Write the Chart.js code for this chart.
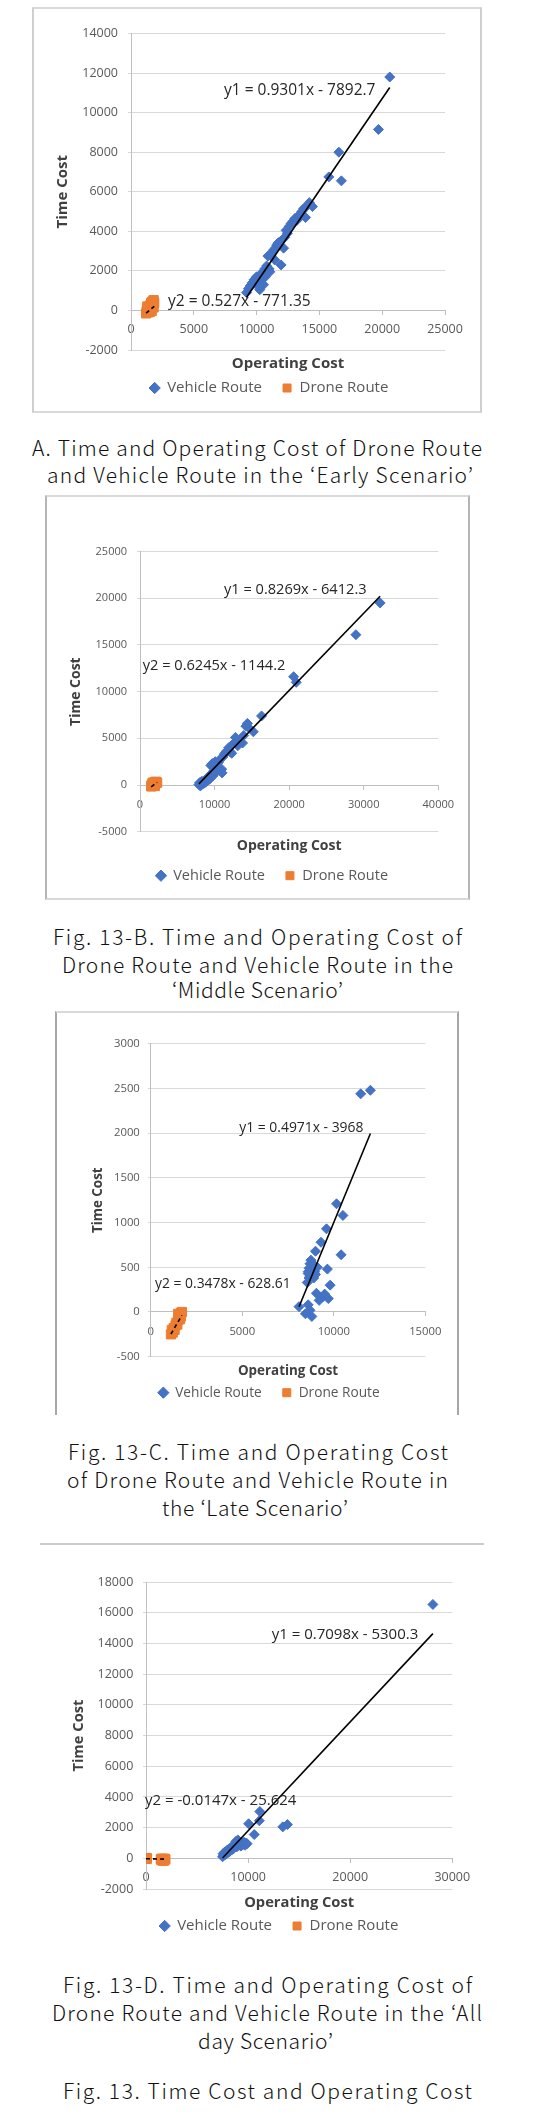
<!DOCTYPE html>
<html>
<head>
<meta charset="utf-8">
<script src="https://cdn.jsdelivr.net/npm/chart.js@4.4.0/dist/chart.umd.min.js"></script>
<style>
body { margin: 0; background: #fff; }
#page { position: relative; width: 541px; height: 2115px; overflow: hidden; background: #fff; }
.frame { position: absolute; box-sizing: border-box; }
canvas { position: absolute; }
.cap { position: absolute; white-space: nowrap; font-family: "Noto Sans CJK KR", "Noto Sans", sans-serif; font-weight: 300; font-size: 21px; line-height: 21px; color: #111; }
</style>
</head>
<body>
<div id="page"></div>
<script>
// ---- data ----
const seriesNames = ['Vehicle Route', 'Drone Route'];
const xTitle = 'Operating Cost';
const yTitle = 'Time Cost';

// Early scenario
const vehicleEarly = [[9200,900],[9350,1100],[9500,1250],[9650,1400],[9800,1550],[9900,1350],[10000,1700],[10100,1500],[10250,1050],[10300,1800],[10400,1600],[10500,1950],[10550,1300],[10650,2100],[10700,1700],[10800,2250],[10900,2750],[11000,2100],[11050,1950],[11150,2800],[11250,2950],[11350,3050],[11450,2550],[11500,3150],[11600,3300],[11700,3400],[11800,3450],[11950,2300],[12000,3550],[12150,3150],[12250,3700],[12350,4050],[12450,3900],[12600,4250],[12750,4400],[12900,4500],[13050,4650],[13200,4550],[13350,4800],[13500,4750],[13600,5000],[13750,5150],[13900,4700],[14050,5300],[14200,5450],[14450,5250],[15750,6750],[16550,8000],[16750,6550],[19700,9150],[20600,11800]];
const droneEarly = [[1200,-150],[1250,-40],[1300,60],[1350,-100],[1400,150],[1450,20],[1500,250],[1550,120],[1600,380],[1650,200],[1700,450],[1750,300],[1800,520],[1850,380],[1300,200],[1500,-80],[1650,-20],[1800,150]];
const trendEarly = [[0.9301, -7892.7], [0.527, -771.35]];
const eqEarly = ['y1 = 0.9301x - 7892.7', 'y2 = 0.527x - 771.35'];
const xTicksEarly = [0, 5000, 10000, 15000, 20000, 25000];
const yTicksEarly = [-2000, 0, 2000, 4000, 6000, 8000, 10000, 12000, 14000];

// Middle scenario
const vehicleMiddle = [[7900,50],[8000,250],[8100,-100],[8200,150],[8300,400],[8400,100],[8500,350],[8600,200],[8700,500],[8800,300],[8900,650],[9000,450],[9100,800],[9200,550],[9300,1000],[9400,700],[9500,2100],[9600,1200],[9700,2300],[9800,1000],[9900,1500],[10000,1800],[10100,2500],[10200,1400],[10300,2000],[10500,2400],[10700,2700],[10800,1600],[10950,1700],[11000,1300],[11100,3000],[11300,3300],[11500,3500],[11700,3700],[11900,4000],[12050,3600],[12300,3400],[12600,4500],[12800,5100],[13100,4200],[13400,4600],[13750,4500],[13900,5300],[14200,6300],[14400,6600],[14600,6100],[15200,5700],[16300,7400],[20600,11600],[20950,11000],[28950,16100],[32200,19500]];
const droneMiddle = [[1500,-150],[1550,-50],[1600,50],[1650,-120],[1700,120],[1750,0],[1800,180],[1850,60],[1900,250],[1950,120],[2000,300],[2050,180],[2100,350],[2150,220],[2200,320],[2300,250],[1700,250],[2000,-100]];
const trendMiddle = [[0.8269, -6412.3], [0.6245, -1144.2]];
const eqMiddle = ['y1 = 0.8269x - 6412.3', 'y2 = 0.6245x - 1144.2'];
const xTicksMiddle = [0, 10000, 20000, 30000, 40000];
const yTicksMiddle = [-5000, 0, 5000, 10000, 15000, 20000, 25000];

// Late scenario
const vehicleLate = [[8100,60],[8450,-20],[8600,80],[8800,-50],[8700,20],[8550,330],[8600,430],[8650,490],[8700,540],[8750,580],[8800,470],[8650,380],[8850,400],[8900,520],[8950,450],[8600,450],[8700,400],[8800,550],[8900,380],[9000,420],[9100,500],[9000,680],[9050,210],[9200,130],[9300,780],[9400,170],[9500,200],[9650,480],[9700,150],[9600,930],[9800,300],[10150,1210],[10400,640],[10500,1080],[11470,2440],[12000,2480]];
const droneLate = [[1100,-250],[1150,-200],[1200,-230],[1250,-180],[1300,-200],[1350,-150],[1400,-120],[1450,-140],[1500,-90],[1550,-60],[1600,-30],[1650,-10],[1700,0],[1600,-80],[1500,-20],[1650,-50]];
const trendLate = [[0.4971, -3968], [0.3478, -628.61]];
const eqLate = ['y1 = 0.4971x - 3968', 'y2 = 0.3478x - 628.61'];
const xTicksLate = [0, 5000, 10000, 15000];
const yTicksLate = [-500, 0, 500, 1000, 1500, 2000, 2500, 3000];

// All day scenario
const vehicleAllDay = [[7500,100],[7550,300],[7600,200],[7700,400],[7800,250],[7900,500],[8000,350],[8100,600],[8200,450],[8300,700],[8400,550],[8500,800],[8600,650],[8700,900],[8800,1100],[8900,750],[9000,1200],[9100,850],[9200,950],[9300,800],[9400,1000],[9500,900],[9600,1050],[9700,850],[9800,1000],[9900,950],[10050,2250],[10600,1550],[11100,2450],[11150,3050],[13400,2050],[13850,2200],[28100,16550]];
const droneAllDay = [[0,0],[30,-40],[60,20],[100,-20],[1450,-60],[1500,-120],[1550,-20],[1600,-100],[1650,-160],[1700,-40],[1750,-90],[1800,-140],[1850,-30],[1900,-70]];
const trendAllDay = [[0.7098, -5300.3], [-0.0147, -25.624]];
const eqAllDay = ['y1 = 0.7098x - 5300.3', 'y2 = -0.0147x - 25.624'];
const xTicksAllDay = [0, 10000, 20000, 30000];
const yTicksAllDay = [-2000, 0, 2000, 4000, 6000, 8000, 10000, 12000, 14000, 16000, 18000];

// captions
const captionLines = [
  'A. Time and Operating Cost of Drone Route',
  'and Vehicle Route in the \u2018Early Scenario\u2019',
  'Fig. 13-B. Time and Operating Cost of',
  'Drone Route and Vehicle Route in the',
  '\u2018Middle Scenario\u2019',
  'Fig. 13-C. Time and Operating Cost',
  'of Drone Route and Vehicle Route in',
  'the \u2018Late Scenario\u2019',
  'Fig. 13-D. Time and Operating Cost of',
  'Drone Route and Vehicle Route in the \u2018All',
  'day Scenario\u2019',
  'Fig. 13. Time Cost and Operating Cost'
];

// ---- layout (page pixels) ----
const capBoxes = [
  [32, 482, 447], [47, 473, 474],
  [53, 462, 936], [62, 453, 964], [172, 343, 989],
  [68, 448, 1451], [67, 448, 1479], [162, 348, 1507],
  [63, 472, 1984], [52, 482, 2012], [198, 333, 2040],
  [63, 472, 2090]
];

const frames = [
  {l: 32, t: 7, w: 450, h: 406, css: 'border:2px solid #d9d9d9;border-left-color:#cfcfcf;border-right-color:#cfcfcf'},
  {l: 45, t: 495, w: 425, h: 405, css: 'border:2px solid #d9d9d9;border-left-color:#b5b5b5;border-right-color:#b5b5b5'},
  {l: 55, t: 1011, w: 404, h: 404, css: 'border:2px solid #d9d9d9;border-bottom:none;border-left-color:#a6a6a6;border-right-color:#a6a6a6'},
  {l: 40, t: 1543, w: 444, h: 2, css: 'border-top:2px solid #cccccc'}
];

const layouts = [
  {plot: {l: 131, r: 445, t: 28.3, b: 350}, yTitleX: 63, yLabPad: 10, xLabPad: 7.8, titleY: 364, legendY: 388, legendX: 269,
   fonts: {tick: 12.5, eq: 15.5, title: 15, legend: 15}, eqAt: [[7404, 11124], [2946, 431]]},
  {plot: {l: 140, r: 438.3, t: 546.7, b: 831.7}, yTitleX: 76, yLabPad: 10, xLabPad: 9, titleY: 845.7, legendY: 875.7, legendX: 272,
   fonts: {tick: 11, eq: 14.6, title: 14, legend: 14.5}, eqAt: [[11260, 20874], [362, 12800]]},
  {plot: {l: 150.8, r: 425.3, t: 1041, b: 1356.7}, yTitleX: 98, yLabPad: 8, xLabPad: 8.5, titleY: 1371, legendY: 1392.7, legendX: 269,
   fonts: {tick: 11.3, eq: 13.9, title: 13.4, legend: 13.7}, eqAt: [[4836, 2054], [230, 310]]},
  {plot: {l: 146, r: 452.3, t: 1576.7, b: 1889}, yTitleX: 79, yLabPad: 9.7, xLabPad: 7.2, titleY: 1902.7, legendY: 1926, legendX: 279,
   fonts: {tick: 12.5, eq: 15, title: 14.7, legend: 15}, eqAt: [[12311, 14583], [-98, 3754]]}
];

const page = document.getElementById('page');
const FONT = '"Open Sans", "Noto Sans", sans-serif';
Chart.defaults.font.family = FONT;

frames.forEach(f => {
  const d = document.createElement('div');
  d.className = 'frame';
  d.style.cssText = `left:${f.l}px;top:${f.t}px;width:${f.w}px;height:${f.h}px;` + f.css;
  page.appendChild(d);
});

function toXY(pts) { return pts.map(p => ({x: p[0], y: p[1]})); }

function trendPoints(pts, coef) {
  const xs = pts.map(p => p[0]);
  const lo = Math.min(...xs), hi = Math.max(...xs);
  return [{x: lo, y: coef[0] * lo + coef[1]}, {x: hi, y: coef[0] * hi + coef[1]}];
}

const eqPlugin = {
  id: 'eqLabels',
  afterDatasetsDraw(chart, args, opts) {
    const {ctx, scales: {x, y}} = chart;
    ctx.save();
    ctx.font = opts.size + 'px ' + FONT;
    ctx.fillStyle = '#262626';
    ctx.textAlign = 'left';
    ctx.textBaseline = 'middle';
    opts.items.forEach(it => ctx.fillText(it.text, x.getPixelForValue(it.at[0]), y.getPixelForValue(it.at[1])));
    ctx.restore();
  }
};

function makeChart(d, L) {
  const titleLH = L.fonts.title * 1.2;
  const cl = Math.round(L.yTitleX - titleLH / 2 - 2);
  const cw = Math.round(2 * (L.legendX - cl));
  const ct = Math.round(L.plot.t - 12);
  const lf = L.fonts.legend, lpad = 20;
  const legendTop = L.legendY - lpad - lf / 2;
  const legendBottom = legendTop + lf + lpad + 10;
  const ch = Math.ceil(legendBottom - ct);
  const canvas = document.createElement('canvas');
  canvas.width = cw; canvas.height = ch;
  canvas.style.left = cl + 'px'; canvas.style.top = ct + 'px';
  page.appendChild(canvas);

  const x2H = legendTop - L.plot.b;
  const pb = legendTop - L.titleY - titleLH / 2;
  const pt = x2H - titleLH - pb;
  const tickFont = {size: L.fonts.tick};
  const titleFont = {size: L.fonts.title, weight: 'bold', lineHeight: 1.2};

  new Chart(canvas, {
    type: 'scatter',
    data: {
      datasets: [
        {label: seriesNames[0], data: toXY(d.vehicle), pointStyle: 'rectRot', pointRadius: 5, pointHoverRadius: 5,
         backgroundColor: '#4472C4', borderColor: '#4472C4', borderWidth: 1, order: 1},
        {label: seriesNames[1], data: toXY(d.drone), pointStyle: 'rect', pointRadius: 6.5, pointHoverRadius: 6.5,
         backgroundColor: '#ED7D31', borderColor: '#ED7D31', borderWidth: 1, order: 1},
        {label: 'trend1', data: trendPoints(d.vehicle, d.trend[0]), showLine: true, pointRadius: 0,
         borderColor: '#000', borderWidth: 1.6, order: 0},
        {label: 'trend2', data: trendPoints(d.drone, d.trend[1]), showLine: true, pointRadius: 0,
         borderColor: '#000', borderWidth: 1.6, borderDash: [4, 3], order: 0}
      ]
    },
    options: {
      responsive: false,
      animation: false,
      devicePixelRatio: 1,
      events: [],
      layout: {padding: {left: 0, right: 0, top: L.plot.t - ct, bottom: ct + ch - legendBottom}},
      scales: {
        x: {
          type: 'linear', position: {y: 0},
          min: d.xTicks[0], max: d.xTicks[d.xTicks.length - 1],
          ticks: {stepSize: d.xTicks[1] - d.xTicks[0], color: '#595959', font: tickFont, padding: L.xLabPad,
                  autoSkip: false, maxRotation: 0, callback: v => String(v)},
          grid: {drawOnChartArea: false, drawTicks: true, tickLength: 4, color: '#bfbfbf'},
          border: {display: true, color: '#bfbfbf', width: 1}
        },
        x2: {
          type: 'linear', position: 'bottom', display: true,
          min: d.xTicks[0], max: d.xTicks[d.xTicks.length - 1],
          ticks: {display: false},
          grid: {display: false, drawTicks: false},
          border: {display: false},
          title: {display: true, text: xTitle, color: '#404040', font: titleFont, padding: {top: pt, bottom: pb}}
        },
        y: {
          type: 'linear', position: 'left',
          min: d.yTicks[0], max: d.yTicks[d.yTicks.length - 1],
          ticks: {stepSize: d.yTicks[1] - d.yTicks[0], color: '#595959', font: tickFont, padding: L.yLabPad,
                  autoSkip: false, callback: v => String(v)},
          grid: {color: '#d9d9d9', lineWidth: 1, drawTicks: true, tickLength: 3},
          border: {display: true, color: '#bfbfbf', width: 1},
          title: {display: true, text: yTitle, color: '#404040', font: titleFont,
                  padding: {top: L.yTitleX - cl - titleLH / 2, bottom: 0}},
          afterFit: s => { s.width = L.plot.l - cl; }
        },
        yR: {
          type: 'linear', position: 'right', display: true,
          ticks: {display: false},
          grid: {display: false, drawTicks: false},
          border: {display: false},
          afterFit: s => { s.width = cl + cw - L.plot.r; }
        }
      },
      plugins: {
        legend: {
          position: 'bottom', align: 'center',
          labels: {usePointStyle: true, boxWidth: 10, boxHeight: 8, padding: lpad, color: '#595959',
                   font: {size: lf}, filter: item => item.datasetIndex < 2}
        },
        tooltip: {enabled: false},
        eqLabels: {size: L.fonts.eq, items: [{text: d.eq[0], at: L.eqAt[0]}, {text: d.eq[1], at: L.eqAt[1]}]}
      }
    },
    plugins: [eqPlugin]
  });
}

const charts = [
  {vehicle: vehicleEarly, drone: droneEarly, trend: trendEarly, eq: eqEarly, xTicks: xTicksEarly, yTicks: yTicksEarly},
  {vehicle: vehicleMiddle, drone: droneMiddle, trend: trendMiddle, eq: eqMiddle, xTicks: xTicksMiddle, yTicks: yTicksMiddle},
  {vehicle: vehicleLate, drone: droneLate, trend: trendLate, eq: eqLate, xTicks: xTicksLate, yTicks: yTicksLate},
  {vehicle: vehicleAllDay, drone: droneAllDay, trend: trendAllDay, eq: eqAllDay, xTicks: xTicksAllDay, yTicks: yTicksAllDay}
];
charts.forEach((c, i) => makeChart(c, layouts[i]));

// captions: stretch each line to its measured width
captionLines.forEach((text, i) => {
  const [l, r, cy] = capBoxes[i];
  const s = document.createElement('span');
  s.className = 'cap';
  s.textContent = text;
  page.appendChild(s);
  const w = s.getBoundingClientRect().width;
  const n = [...text].length;
  const ls = n > 1 ? (r - l - w) / (n - 1) : 0;
  s.style.letterSpacing = ls + 'px';
  s.style.left = l + 'px';
  s.style.top = (cy - 10.5) + 'px';
});
</script>
</body>
</html>
